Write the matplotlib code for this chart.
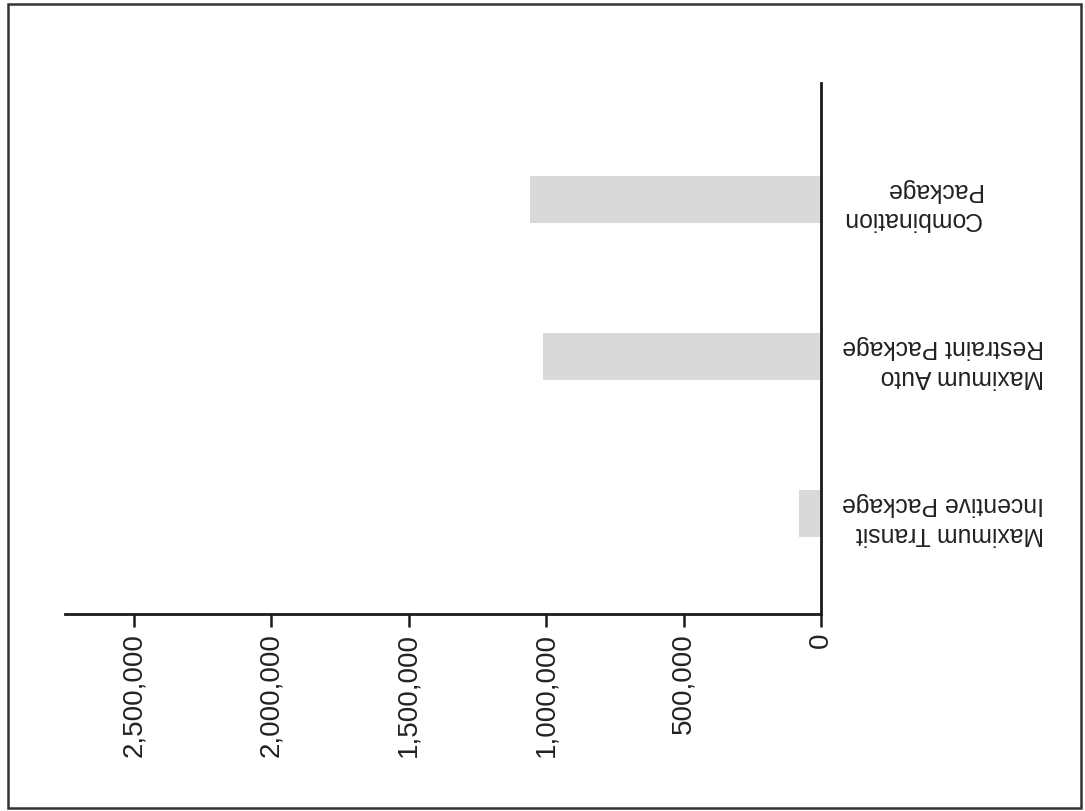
import matplotlib
matplotlib.use("Agg")
import matplotlib.pyplot as plt
import matplotlib.patches as mpatches
from matplotlib.ticker import FuncFormatter

plt.rcParams["font.family"] = ["Liberation Sans", "DejaVu Sans"]

# ── Data ──────────────────────────────────────────────────────────────────────
packages = [
    "Maximum Transit\nIncentive Package",
    "Maximum Auto\nRestraint Package",
    "Combination\nPackage",
]
values = [80000, 1010000, 1058000]
ticks = [0, 500000, 1000000, 1500000, 2000000, 2500000]

# ── Plot ──────────────────────────────────────────────────────────────────────
fig = plt.figure(figsize=(10.85, 8.11), dpi=100)
ax = fig.add_axes([0.0599, 0.2429, 0.6968, 0.6547])

pos = list(range(len(packages)))
ax.barh(pos, values, height=0.30, color="#d9d9d9", edgecolor="none", zorder=2)

# value axis runs right-to-left, zero on the right
ax.set_xlim(2750000, 0)
ax.set_ylim(-0.64, 2.74)

ax.spines[["top", "left"]].set_visible(False)
for sp in ("bottom", "right"):
    ax.spines[sp].set_linewidth(2.0)
    ax.spines[sp].set_color("#1a1a1a")

ax.set_xticks(ticks)
ax.xaxis.set_major_formatter(FuncFormatter(lambda v, _: f"{v:,.0f}"))
ax.tick_params(axis="x", direction="out", length=9.5, width=1.8,
               color="#1a1a1a", pad=4, labelsize=20, labelrotation=90,
               labelcolor="#222222")
for lab in ax.get_xticklabels():
    lab.set_verticalalignment("top")

ax.yaxis.tick_right()
ax.set_yticks(pos, labels=packages)
ax.tick_params(axis="y", length=0, pad=15, labelsize=17.8,
               labelcolor="#222222")
for lab in ax.get_yticklabels():
    lab.set_rotation(180)
    lab.set_multialignment("left")
    lab.set_linespacing(1.3)

# outer frame around the figure
frame = mpatches.Rectangle((8 / 1085, 3 / 811), 1073 / 1085, 804 / 811,
                           transform=fig.transFigure, fill=False,
                           edgecolor="#333333", lw=1.8)
fig.patches.append(frame)

fig.savefig("out.png", dpi=100)
